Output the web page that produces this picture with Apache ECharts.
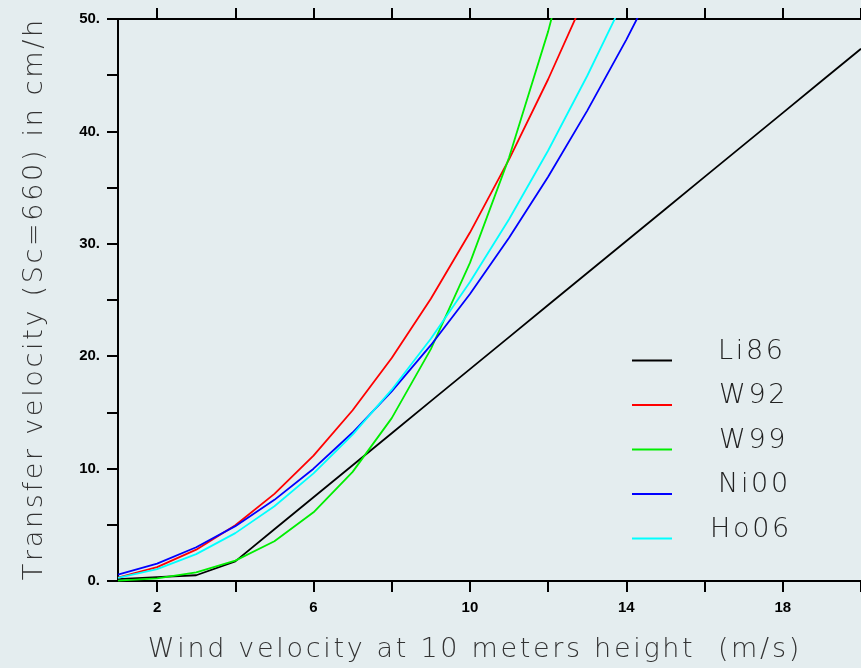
<!DOCTYPE html>
<html>
<head>
<meta charset="utf-8">
<script src="https://cdn.jsdelivr.net/npm/echarts@6/dist/echarts.min.js"></script>
<style>
  html, body { margin: 0; padding: 0; background: #e4edef; }
  #main { width: 861px; height: 668px; }
</style>
</head>
<body>
<div id="main"></div>
<script>
// wind speed (m/s) at 10 m
var windSpeed = [1, 2, 3, 4, 5, 6, 7, 8, 9, 10, 11, 12, 13, 14, 15, 16, 17, 18, 19, 20];

// transfer velocity, cm/h (Sc=660)
var li86 = [0.17, 0.34, 0.51, 1.75, 4.6, 7.45, 10.3, 13.15, 16.0, 18.85, 21.7, 24.55, 27.4, 30.25, 33.1, 35.95, 38.8, 41.65, 44.5, 47.35];
var w92  = [0.31, 1.24, 2.79, 4.96, 7.75, 11.16, 15.19, 19.84, 25.11, 31.0, 37.51, 44.64, 52.39];
var w99  = [0.03, 0.23, 0.76, 1.81, 3.54, 6.11, 9.71, 14.49, 20.63, 28.3, 37.67, 48.9, 62.17];
var ni00 = [0.56, 1.55, 3.0, 4.88, 7.22, 9.99, 13.21, 16.87, 20.98, 25.53, 30.53, 35.96, 41.85, 48.17, 54.95];
var ho06 = [0.27, 1.06, 2.39, 4.26, 6.65, 9.58, 13.03, 17.02, 21.55, 26.6, 32.19, 38.3, 44.95, 52.14];

var seriesNames  = ['Li86', 'W92', 'W99', 'Ni00', 'Ho06'];
var seriesValues = [li86, w92, w99, ni00, ho06];
var seriesColors = ['#000000', '#ff0000', '#00ee00', '#0000ff', '#00ffff'];
// small per-name shift so the legend names sit centred like the original
var legendTextPad = [41, 42, 42, 41, 33];

var xTicks  = [2, 4, 6, 8, 10, 12, 14, 16, 18, 20];
var xLabels = [2, 6, 10, 14, 18];

var xTitle = 'Wind velocity at 10 meters height  (m/s)';
var yTitle = 'Transfer velocity (Sc=660) in cm/h';

var thinFont = 'DejaVu Sans';

function pairs(vals){
	var out = [];
	for(var i = 0; i < vals.length; i++){
		out.push([windSpeed[i], vals[i]]);
	}
	return out;
}

// the original font is wide, spread letters a little
function spread(s){
	return s.split('').join('\u200A');
}

var series = [];
var legendData = [];
for(var i = 0; i < seriesNames.length; i++){
	series.push({
		name: seriesNames[i],
		type: 'line',
		data: pairs(seriesValues[i]),
		symbol: 'none',
		clip: true,
		lineStyle: { color: seriesColors[i], width: 1.8 },
		itemStyle: { color: seriesColors[i] }
	});
	legendData.push({ name: seriesNames[i], textStyle: { padding: [0, 0, 0, legendTextPad[i]] } });
}

var axisLine = { show: true, lineStyle: { color: '#000', width: 2 } };
var tickFont = { fontFamily: 'Liberation Sans', fontWeight: 'bold', fontSize: 15, color: '#000' };

var myChart = echarts.init(document.getElementById('main'));
var option = {
	backgroundColor: '#e4edef',
	animation: false,
	grid: { left: 118, top: 19, width: 752, height: 563, containLabel: false },
	legend: {
		orient: 'vertical',
		left: 632,
		top: 338,
		padding: 0,
		itemGap: 17.5,
		itemWidth: 40,
		itemHeight: 20,
		icon: 'path://M0,0 L40,0 L40,0.01 L0,0.01 Z M0,18 L40,18 L40,20 L0,20 Z',
		data: legendData,
		formatter: function(name){ return spread(name); },
		textStyle: {
			fontFamily: thinFont, fontWeight: 200, fontSize: 27, color: '#222',
			lineHeight: 20
		}
	},
	xAxis: [{
		type: 'value', position: 'bottom', min: 1, max: 20,
		name: spread(xTitle),
		nameLocation: 'middle', nameGap: 55,
		nameTextStyle: { fontFamily: thinFont, fontWeight: 200, fontSize: 27, color: '#333', padding: [0, 32, 0, 0] },
		axisLine: axisLine,
		axisTick: { show: true, inside: false, length: 11, customValues: xTicks, lineStyle: { color: '#000', width: 2 } },
		axisLabel: Object.assign({ customValues: xLabels, margin: 19 }, tickFont),
		splitLine: { show: false }
	}, {
		type: 'value', position: 'top', min: 1, max: 20,
		axisLine: axisLine,
		axisTick: { show: true, inside: false, length: 11, customValues: xTicks, lineStyle: { color: '#000', width: 2 } },
		axisLabel: { show: false },
		splitLine: { show: false }
	}],
	yAxis: [{
		type: 'value', min: 0, max: 50, interval: 5,
		name: spread(yTitle),
		nameLocation: 'middle', nameGap: 70,
		nameTextStyle: { fontFamily: thinFont, fontWeight: 200, fontSize: 27, color: '#333' },
		axisLine: axisLine,
		axisTick: { show: true, inside: false, length: 11, lineStyle: { color: '#000', width: 2 } },
		axisLabel: Object.assign({
			margin: 18,
			formatter: function(v){ return v % 10 === 0 ? v + '.' : ''; }
		}, tickFont),
		splitLine: { show: false }
	}],
	series: series
};
myChart.setOption(option);
</script>
</body>
</html>
